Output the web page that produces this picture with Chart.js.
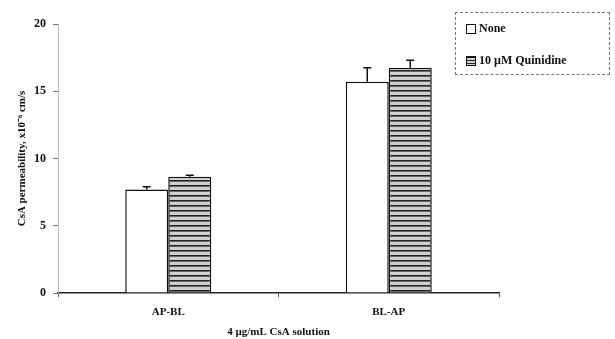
<!DOCTYPE html>
<html>
<head>
<meta charset="utf-8">
<script src="https://cdn.jsdelivr.net/npm/chart.js@4/dist/chart.umd.min.js"></script>
<style>
  body { margin: 0; background: #fff; }
  #wrap { position: relative; width: 615px; height: 339px; }
  #legend {
    position: absolute; left: 455px; top: 12px; width: 155px; height: 63px;
    border: 1px dashed #777; box-sizing: border-box;
    font: bold 12px "Liberation Serif", serif; color: #111;
  }
  .item { position: absolute; left: 10px; display: flex; align-items: center; }
  .sw { width: 10px; height: 10px; border: 1.5px solid #111; margin-right: 3px; box-sizing: border-box; }
</style>
</head>
<body>
<div id="wrap">
  <canvas id="myChart" width="615" height="339"></canvas>
  <div id="legend">
    <div class="item" style="top:8px"><span class="sw" style="background:#fff"></span>None</div>
    <div class="item" style="top:40px"><span class="sw" id="sw2"></span>10 µM Quinidine</div>
  </div>
</div>
<script>
  const categories = ['AP-BL', 'BL-AP'];
  const noneValues = [7.7, 15.7];
  const noneErrors = [0.2, 1.05];
  const quinValues = [8.65, 16.75];
  const quinErrors = [0.1, 0.55];
  const seriesNames = ['None', '10 µM Quinidine'];

  // striped fill like the scanned figure
  function stripes() {
    let c = document.createElement('canvas');
    c.width = 8; c.height = 5;
    let g = c.getContext('2d');
    g.fillStyle = '#cfcfcf';
    g.fillRect(0, 0, 8, 5);
    g.fillStyle = '#222';
    g.fillRect(0, 0, 8, 1.6);
    return g.createPattern(c, 'repeat');
  }
  let ctx = document.getElementById('myChart');
  const pat = stripes();
  document.getElementById('sw2').style.background =
    'repeating-linear-gradient(#222 0 1.5px, #cfcfcf 1.5px 3px)';

  const errorBars = {
    id: 'errorBars',
    afterDatasetsDraw(chart) {
      const g = chart.ctx;
      const y = chart.scales.y;
      g.save();
      g.strokeStyle = '#111';
      g.lineWidth = 1.5;
      chart.data.datasets.forEach((ds, i) => {
        const meta = chart.getDatasetMeta(i);
        meta.data.forEach((bar, j) => {
          const top = y.getPixelForValue(ds.data[j] + ds.errors[j]);
          g.beginPath();
          g.moveTo(bar.x, bar.y);
          g.lineTo(bar.x, top);
          g.moveTo(bar.x - 4, top);
          g.lineTo(bar.x + 4, top);
          g.stroke();
        });
      });
      g.restore();
    }
  };

  const font = { family: 'Liberation Serif', weight: 'bold', size: 12 };
  const small = { family: 'Liberation Serif', weight: 'bold', size: 11 };

  new Chart(ctx, {
    type: 'bar',
    data: {
      labels: categories,
      datasets: [{
        label: seriesNames[0],
        data: noneValues,
        errors: noneErrors,
        backgroundColor: '#fff',
        borderColor: '#111',
        borderWidth: 1.5
      }, {
        label: seriesNames[1],
        data: quinValues,
        errors: quinErrors,
        backgroundColor: pat,
        borderColor: '#111',
        borderWidth: 1.5
      }]
    },
    options: {
      responsive: false,
      animation: false,
      categoryPercentage: 0.39,
      barPercentage: 1,
      layout: { padding: { top: 24, right: 116, left: 12, bottom: 0 } },
      plugins: {
        legend: { display: false },
        tooltip: { enabled: false }
      },
      scales: {
        x: {
          grid: { display: true, drawOnChartArea: false, color: '#555', tickLength: 4, offset: true },
          border: { color: '#222', width: 1.5 },
          ticks: { font: small, color: '#111', padding: 9 },
          title: { display: true, text: '4 µg/mL CsA solution', font: small, color: '#111', padding: { top: 5, bottom: 0 } },
          afterFit: (s) => { s.height = 46; }
        },
        y: {
          min: 0, max: 20,
          ticks: { stepSize: 5, font: font, color: '#111', padding: 7 },
          grid: { display: true, drawOnChartArea: false, color: '#777', tickLength: 5 },
          border: { color: '#bbb', width: 1, dash: [2, 2] },
          title: { display: true, text: 'CsA permeability, x10⁻⁶ cm/s', font: small, color: '#111' },
          afterFit: (s) => { s.width = 46; }
        }
      }
    },
    plugins: [errorBars]
  });
</script>
</body>
</html>
